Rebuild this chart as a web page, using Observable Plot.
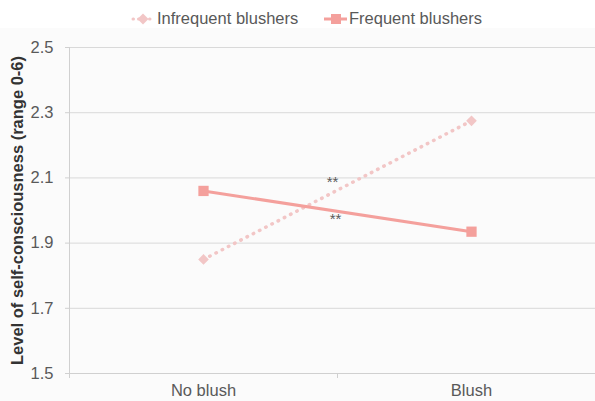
<!DOCTYPE html>
<html>
<head>
<meta charset="utf-8">
<script src="https://cdn.jsdelivr.net/npm/d3@7"></script>
<script src="https://cdn.jsdelivr.net/npm/@observablehq/plot@0.6"></script>
<style>
  html, body { margin: 0; padding: 0; background: #fbfbfb; }
  body { width: 595px; height: 401px; overflow: hidden; font-family: "Liberation Sans", Arial, sans-serif; }
  #legend { position: relative; height: 28px; background: #fff; }
  .item { position: absolute; top: 9px; display: flex; align-items: center; font-size: 16.5px; color: #595959; white-space: nowrap; }
  .item svg { margin-right: 2px; }
  #chart svg { overflow: visible; }
</style>
</head>
<body>
<div id="legend"></div>
<div id="chart"></div>
<script>
const categories = ["No blush", "Blush"];
const seriesNames = ["Infrequent blushers", "Frequent blushers"];
const infrequentValues = [1.85, 2.275];
const frequentValues = [2.06, 1.935];
const yTicks = [1.5, 1.7, 1.9, 2.1, 2.3, 2.5];
const annotationLabels = ["**", "**"];
const annotationValues = [2.086, 1.972];
const colors = {"Infrequent blushers": "#f2c6c6", "Frequent blushers": "#f4a09c"};

const data = [];
categories.forEach((c, i) => {
  data.push({series: seriesNames[0], cat: c, idx: i, value: infrequentValues[i]});
  data.push({series: seriesNames[1], cat: c, idx: i, value: frequentValues[i]});
});
const infrequent = data.filter(d => d.series === seriesNames[0]);
const frequent = data.filter(d => d.series === seriesNames[1]);
const annotations = annotationLabels.map((l, i) => ({label: l, x: 0.5, value: annotationValues[i]}));

// Legend
const legend = document.getElementById("legend");
const legendDefs = [
  {name: seriesNames[0], left: 131, swatch: `<svg width="24" height="14"><line x1="2" y1="7" x2="22" y2="7" stroke="${colors[seriesNames[0]]}" stroke-width="3" stroke-dasharray="0.5,5" stroke-linecap="round"/><path d="M12,1.5L17.5,7L12,12.5L6.5,7Z" fill="${colors[seriesNames[0]]}"/></svg>`},
  {name: seriesNames[1], left: 323, swatch: `<svg width="24" height="14"><line x1="1" y1="7" x2="24" y2="7" stroke="${colors[seriesNames[1]]}" stroke-width="3"/><rect x="8" y="2" width="10" height="10" fill="${colors[seriesNames[1]]}"/></svg>`}
];
for (const l of legendDefs) {
  const div = document.createElement("div");
  div.className = "item";
  div.style.left = l.left + "px";
  div.innerHTML = l.swatch + `<span>${l.name}</span>`;
  legend.appendChild(div);
}

const chart = Plot.plot({
  width: 595,
  height: 373,
  marginLeft: 69,
  marginRight: 0,
  marginTop: 19,
  marginBottom: 28,
  style: {background: "transparent", fontFamily: "Liberation Sans, Arial, sans-serif", color: "#595959"},
  x: {type: "linear", domain: [-0.5, 1.5], range: [69, 605]},
  y: {domain: [1.5, 2.5], range: [345, 19]},
  marks: [
    Plot.ruleY(yTicks.slice(1), {x1: -0.5, x2: 1.5, stroke: "#d9d9d9", strokeWidth: 1}),
    Plot.ruleY([1.5], {x1: -0.5, x2: 1.5, stroke: "#d0d0d0", strokeWidth: 1}),
    Plot.ruleX([-0.5], {y1: 1.5, y2: 2.5, stroke: "#d0d0d0", strokeWidth: 1}),
    Plot.axisY({ticks: yTicks, tickFormat: d3.format(".1f"), tickSize: 4, tickPadding: 12, stroke: "#d0d0d0", fontSize: 16.5, fill: "#595959", label: null}),
    Plot.axisY({ticks: [], tickSize: 0, label: "Level of self-consciousness (range 0-6)", labelAnchor: "center", labelArrow: "none", labelOffset: 58, fontSize: 16.5, fontWeight: "bold", fill: "#333"}),
    Plot.axisX({ticks: [-0.5, 0.5, 1.5], tickFormat: () => "", tickSize: 5, stroke: "#d0d0d0", label: null}),
    Plot.axisX({ticks: categories.map((c, i) => i), tickFormat: i => categories[i], tickSize: 0, tickPadding: 11, fontSize: 16.5, fill: "#595959", label: null}),
    Plot.line(infrequent, {x: "idx", y: "value", stroke: colors[seriesNames[0]], strokeWidth: 3.5, strokeDasharray: "0.5,6.5", strokeLinecap: "round"}),
    Plot.line(frequent, {x: "idx", y: "value", stroke: colors[seriesNames[1]], strokeWidth: 3}),
    Plot.dot(infrequent, {x: "idx", y: "value", symbol: "diamond2", r: 4.8, fill: colors[seriesNames[0]], stroke: "none"}),
    Plot.dot(frequent, {x: "idx", y: "value", symbol: "square", r: 5.8, fill: colors[seriesNames[1]], stroke: "none"}),
    Plot.text(annotations.slice(0, 1), {x: "x", y: "value", text: "label", dx: -5, fontSize: 15, fill: "#595959"}),
    Plot.text(annotations.slice(1), {x: "x", y: "value", text: "label", dx: -2, fontSize: 15, fill: "#595959"})
  ]
});
document.getElementById("chart").appendChild(chart);
</script>
</body>
</html>
